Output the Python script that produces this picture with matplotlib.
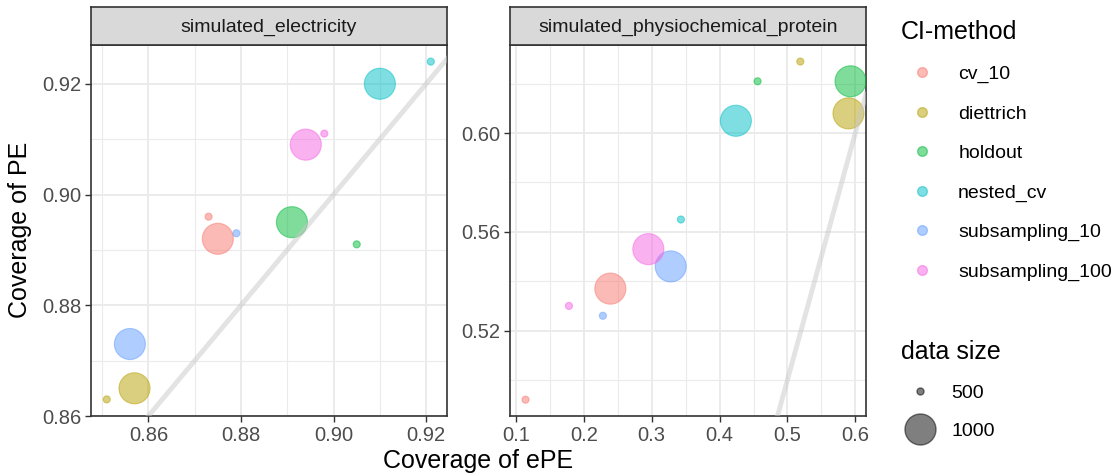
import numpy as np
import matplotlib
matplotlib.use("Agg")
import matplotlib.pyplot as plt
from matplotlib.lines import Line2D

plt.rcParams['font.family'] = ['Liberation Sans', 'DejaVu Sans']

# --- data ---
methods = ['cv_10', 'diettrich', 'holdout', 'nested_cv', 'subsampling_10', 'subsampling_100']
colors = ['#F8766D', '#B79F00', '#00BA38', '#00BFC4', '#619CFF', '#F564E3']
sizes = [500, 1000]

elec_epe_500 = [0.873, 0.851, 0.905, 0.921, 0.879, 0.898]
elec_pe_500 = [0.896, 0.863, 0.891, 0.924, 0.893, 0.911]
elec_epe_1000 = [0.875, 0.857, 0.891, 0.910, 0.856, 0.894]
elec_pe_1000 = [0.892, 0.865, 0.895, 0.920, 0.873, 0.909]

prot_epe_500 = [0.114, 0.519, 0.456, 0.343, 0.228, 0.178]
prot_pe_500 = [0.492, 0.629, 0.621, 0.565, 0.526, 0.530]
prot_epe_1000 = [0.239, 0.590, 0.593, 0.424, 0.328, 0.295]
prot_pe_1000 = [0.537, 0.608, 0.621, 0.605, 0.546, 0.553]

elec_xticks = [0.86, 0.88, 0.90, 0.92]
elec_yticks = [0.86, 0.88, 0.90, 0.92]
prot_xticks = [0.1, 0.2, 0.3, 0.4, 0.5, 0.6]
prot_yticks = [0.52, 0.56, 0.60]

marker_area = {500: 26, 1000: 500}

fig = plt.figure(figsize=(11.13, 4.74), dpi=100)

panels = [
    dict(title='simulated_electricity', left=91, right=447,
         data={500: (elec_epe_500, elec_pe_500), 1000: (elec_epe_1000, elec_pe_1000)},
         xlim=(0.8476, 0.9245), ylim=(0.86, 0.927),
         xt=elec_xticks, yt=elec_yticks, xfmt='{:.2f}', yfmt='{:.2f}'),
    dict(title='simulated_physiochemical_protein', left=510, right=866,
         data={500: (prot_epe_500, prot_pe_500), 1000: (prot_epe_1000, prot_pe_1000)},
         xlim=(0.0911, 0.6158), ylim=(0.4854, 0.6357),
         xt=prot_xticks, yt=prot_yticks, xfmt='{:.1f}', yfmt='{:.2f}'),
]

W, H = 1113, 474
top_px, bot_px, strip_top = 45, 416, 7
frame = '#333333'

for p in panels:
    ax = fig.add_axes([p['left'] / W, 1 - bot_px / H, (p['right'] - p['left']) / W, (bot_px - top_px) / H])

    # minor grid halfway between major ticks, kept inside the panel
    xt, yt = np.array(p['xt']), np.array(p['yt'])
    dx, dy = xt[1] - xt[0], yt[1] - yt[0]
    xminor = np.arange(xt[0] - dx / 2, p['xlim'][1], dx)
    yminor = np.arange(yt[0] - dy / 2, p['ylim'][1], dy)
    xminor = xminor[(xminor > p['xlim'][0]) & (xminor < p['xlim'][1])]
    yminor = yminor[(yminor > p['ylim'][0]) & (yminor < p['ylim'][1])]
    ax.set_xticks(xt)
    ax.set_xticklabels([p['xfmt'].format(v) for v in xt])
    ax.set_yticks(yt)
    ax.set_yticklabels([p['yfmt'].format(v) for v in yt])
    ax.set_xticks(xminor, minor=True)
    ax.set_yticks(yminor, minor=True)
    ax.grid(True, which='major', color='#EBEBEB', lw=1.4)
    ax.grid(True, which='minor', color='#EBEBEB', lw=0.8)
    ax.tick_params(which='minor', length=0)
    ax.tick_params(which='major', length=4, width=1, color=frame,
                   labelsize=14.5, labelcolor='#4D4D4D', pad=3)
    ax.set_axisbelow(True)
    for s in ax.spines.values():
        s.set_color(frame)
        s.set_linewidth(1.2)

    for sz in sizes:
        xs, ys = p['data'][sz]
        ax.scatter(xs, ys, s=marker_area[sz], c=colors, alpha=0.5,
                   edgecolors=colors, linewidths=0.8, zorder=3)

    ax.axline((0, 0), slope=1, color='#C8C8C8', alpha=0.5, lw=3.5, zorder=4)
    ax.set_xlim(p['xlim'])
    ax.set_ylim(p['ylim'])

    sax = fig.add_axes([p['left'] / W, 1 - top_px / H, (p['right'] - p['left']) / W, (top_px - strip_top) / H])
    sax.set_facecolor('#D9D9D9')
    sax.set_xticks([])
    sax.set_yticks([])
    for s in sax.spines.values():
        s.set_color(frame)
        s.set_linewidth(1.2)
    sax.text(0.5, 0.47, p['title'], ha='center', va='center', fontsize=14,
             color='#1A1A1A', transform=sax.transAxes)

fig.text(478 / W, 1 - 461 / H, 'Coverage of ePE', ha='center', va='center', fontsize=18)
fig.text(20 / W, 1 - 230 / H, 'Coverage of PE', ha='center', va='center', fontsize=18, rotation=90)

# legends
color_handles = [Line2D([], [], ls='', marker='o', markersize=7, color=c, alpha=0.5) for c in colors]
leg1 = fig.legend(color_handles, methods, title='CI-method', loc='upper left',
                  bbox_to_anchor=(893 / W, 1 - 12 / H), frameon=False, fontsize=14,
                  title_fontsize=18, labelspacing=1.12, handletextpad=0.75,
                  handlelength=2.2, borderaxespad=0)
leg1._legend_box.align = 'left'

size_handles = [Line2D([], [], ls='', marker='o', color='black', alpha=0.5,
                       markersize=np.sqrt(marker_area[sz])) for sz in sizes]
leg2 = fig.legend(size_handles, [str(sz) for sz in sizes], title='data size', loc='upper left',
                  bbox_to_anchor=(893 / W, 1 - 332 / H), frameon=False, fontsize=14,
                  title_fontsize=18, labelspacing=1.05, handletextpad=0.6, borderaxespad=0)
leg2._legend_box.align = 'left'

fig.savefig('out.png', dpi=100)
